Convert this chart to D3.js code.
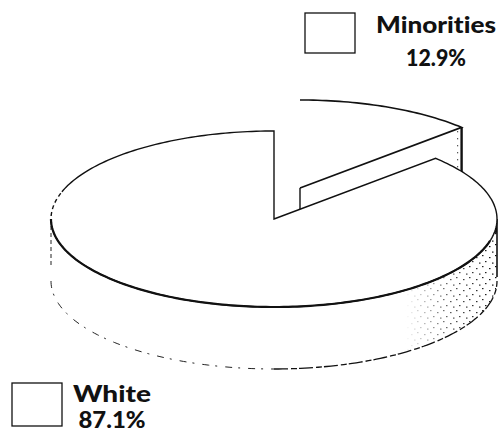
<!DOCTYPE html>
<html>
<head>
<meta charset="utf-8">
<script src="https://cdn.jsdelivr.net/npm/d3@7"></script>
<style>
  html, body { margin: 0; padding: 0; background: #fff; }
  svg { display: block; }
  .lbl { font-family: Lato, "Open Sans", sans-serif; font-weight: 900; fill: #111;
         font-variant-ligatures: none; font-feature-settings: "liga" 0; }
</style>
</head>
<body>
<div id="chart"></div>
<script>
// Population shares, in percent
const categories = ["Minorities", "White"];
const shares = [12.9, 87.1];
const shareLabels = ["12.9%", "87.1%"];

const W = 500, H = 432;
const cx = 274, cy = 219, rx = 223, ry = 88, depth = 62;
const lift = [26, -31]; // the minority slice is pulled back out of the disc

const svg = d3.select("#chart").append("svg")
  .attr("width", W).attr("height", H);

svg.append("rect").attr("width", W).attr("height", H).attr("fill", "#fff");

const defs = svg.append("defs");

// sparse stipple texture for the shaded side of the disc
const pat = defs.append("pattern").attr("id", "stip")
  .attr("patternUnits", "userSpaceOnUse").attr("width", 13).attr("height", 11);
[[1, 2], [8, 4], [4, 8], [11, 9.5]].forEach(([x, y]) =>
  pat.append("rect").attr("x", x).attr("y", y).attr("width", 1.5).attr("height", 1.2).attr("fill", "#111"));

const grad = defs.append("linearGradient").attr("id", "fade")
  .attr("gradientUnits", "userSpaceOnUse")
  .attr("x1", 405).attr("y1", 0).attr("x2", 495).attr("y2", 0);
grad.append("stop").attr("offset", 0).attr("stop-color", "#fff").attr("stop-opacity", 0);
grad.append("stop").attr("offset", 0.5).attr("stop-color", "#fff").attr("stop-opacity", 0.7);
grad.append("stop").attr("offset", 1).attr("stop-color", "#fff").attr("stop-opacity", 1);
defs.append("mask").attr("id", "fadeMask")
  .append("rect").attr("x", 0).attr("y", 0).attr("width", W).attr("height", H).attr("fill", "url(#fade)");

// slices: Minorities first, clockwise from 12 o'clock
const arcs = d3.pie().sort(null).value(d => d)(shares);

// oblique projection of a point on the disc (angle clockwise from the back)
function proj(a, r, dz, off) {
  return [cx + off[0] + rx * r * Math.sin(a), cy + off[1] - ry * r * Math.cos(a) + dz];
}
function arcPts(a0, a1, dz, off) {
  const n = Math.max(2, Math.ceil(Math.abs(a1 - a0) / 0.02));
  return d3.range(n + 1).map(i => proj(a0 + (a1 - a0) * i / n, 1, dz, off));
}
const line = d3.line();
const g = svg.append("g");

// ---- Minorities slice (raised, behind) ----
const mn = arcs[0];
const off = lift;
const mC = proj(0, 0, 0, off), mCb = proj(0, 0, depth, off);
const mP = proj(mn.endAngle, 1, 0, off), mPb = proj(mn.endAngle, 1, depth, off);
// radial side face
g.append("path").attr("d", line([mC, mP, mPb, mCb]) + "Z").attr("fill", "#fff").attr("stroke", "none");
g.append("path").attr("d", line([mP, mPb]) + "Z")
  .attr("fill", "none").attr("stroke", "#111").attr("stroke-width", 2.4).attr("stroke-dasharray", "5 1.5 2 1");
g.append("path").attr("d", line([[mP[0] - 4, mP[1] + 4], [mPb[0] - 4, mPb[1] - 2]]))
  .attr("fill", "none").attr("stroke", "#222").attr("stroke-width", 1.2).attr("stroke-dasharray", "1 6");
g.append("path").attr("d", line([mC, mCb])).attr("fill", "none").attr("stroke", "#111").attr("stroke-width", 1.4);
// top face
const mTop = arcPts(mn.startAngle, mn.endAngle, 0, off);
g.append("path").attr("d", line([mC, ...mTop]) + "Z").attr("fill", "#fff");
g.append("path").attr("d", line([...mTop, mC])).attr("fill", "none").attr("stroke", "#111").attr("stroke-width", 1.6);

// ---- White slice ----
const wh = arcs[1];
const z0 = [0, 0];
const wallA0 = Math.max(wh.startAngle, Math.PI / 2), wallA1 = Math.min(wh.endAngle, 3 * Math.PI / 2);
const wallTop = arcPts(wallA0, wallA1, 0, z0);
const wallBot = arcPts(wallA1, wallA0, depth, z0);
const wallD = line([...wallTop, ...wallBot]) + "Z";
g.append("path").attr("d", wallD).attr("fill", "#fff");
g.append("path").attr("d", wallD).attr("fill", "url(#stip)").attr("mask", "url(#fadeMask)");

// dark corner at the right end of the wall
const cornerPts = arcPts(Math.PI / 2 + 0.02, Math.PI / 2 + 0.16, 0, z0);
g.append("path").attr("d", line([...cornerPts, proj(Math.PI / 2 + 0.02, 1, 12, z0)]) + "Z").attr("fill", "#111");

// wall edges
g.append("path").attr("d", line(arcPts(Math.PI, Math.PI / 2, depth, z0)))
  .attr("fill", "none").attr("stroke", "#111").attr("stroke-width", 1.3).attr("stroke-dasharray", "14 3 6 2");
g.append("path").attr("d", line(arcPts(3 * Math.PI / 2, Math.PI, depth, z0)))
  .attr("fill", "none").attr("stroke", "#222").attr("stroke-width", 1).attr("stroke-dasharray", "7 6 2 8");
g.append("path").attr("d", line([proj(Math.PI / 2, 1, 0, z0), proj(Math.PI / 2, 1, depth - 4, z0)]))
  .attr("fill", "none").attr("stroke", "#111").attr("stroke-width", 1.6);
g.append("path").attr("d", line([proj(3 * Math.PI / 2, 1, 0, z0), proj(3 * Math.PI / 2, 1, 48, z0)]))
  .attr("fill", "none").attr("stroke", "#222").attr("stroke-width", 1).attr("stroke-dasharray", "4 3");

// top face
const wC = proj(0, 0, 0, z0);
const wTop = arcPts(wh.startAngle, wh.endAngle, 0, z0);
g.append("path").attr("d", line([wC, ...wTop]) + "Z").attr("fill", "#fff")
  .attr("stroke", "#111").attr("stroke-width", 1.4).attr("stroke-linejoin", "miter");
// heavier front rim
g.append("path").attr("d", line(arcPts(Math.PI * 0.58, Math.PI * 1.5, 0, z0)))
  .attr("fill", "none").attr("stroke", "#111").attr("stroke-width", 2.2);
// faint back rim on the left
g.append("path").attr("d", line(arcPts(Math.PI * 1.5, Math.PI * 1.6, 0, z0)))
  .attr("fill", "none").attr("stroke", "#fff").attr("stroke-width", 2.5).attr("stroke-dasharray", "3 4");

// ---- legend ----
const legend = [
  { box: [305, 13, 50, 40], x: 436, y1: 33, y2: 66, w1: 120, w2: 60 },
  { box: [12, 383, 50, 43], x: 112, y1: 402, y2: 428, w1: 78, w2: 67 }
];
categories.forEach((c, i) => {
  const L = legend[i];
  svg.append("rect").attr("x", L.box[0]).attr("y", L.box[1]).attr("width", L.box[2]).attr("height", L.box[3])
    .attr("fill", "#fff").attr("stroke", "#111").attr("stroke-width", 1.3);
  svg.append("text").attr("class", "lbl").attr("x", L.x).attr("y", L.y1).attr("text-anchor", "middle")
    .attr("font-size", 22).attr("textLength", L.w1).attr("lengthAdjust", "spacingAndGlyphs").text(c);
  svg.append("text").attr("class", "lbl").attr("x", L.x).attr("y", L.y2).attr("text-anchor", "middle")
    .attr("font-size", 22).attr("textLength", L.w2).attr("lengthAdjust", "spacingAndGlyphs").text(shareLabels[i]);
});
</script>
</body>
</html>
